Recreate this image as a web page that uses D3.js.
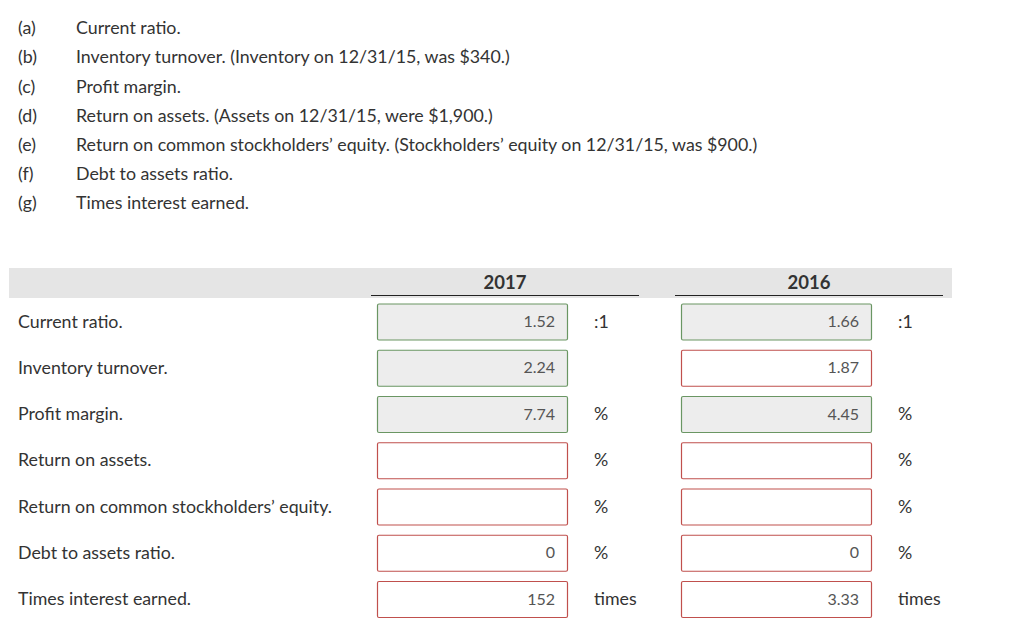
<!DOCTYPE html>
<html>
<head>
<meta charset="utf-8">
<script src="https://cdn.jsdelivr.net/npm/d3@7"></script>
<style>
  body { margin: 0; background: #fff; }
  svg text { font-family: Lato, "Open Sans", sans-serif; }
</style>
</head>
<body>
<div id="chart"></div>
<script>
// question list
var letters = ['(a)', '(b)', '(c)', '(d)', '(e)', '(f)', '(g)'];
var questions = [
  'Current ratio.',
  'Inventory turnover. (Inventory on 12/31/15, was $340.)',
  'Profit margin.',
  'Return on assets. (Assets on 12/31/15, were $1,900.)',
  'Return on common stockholders\u2019 equity. (Stockholders\u2019 equity on 12/31/15, was $900.)',
  'Debt to assets ratio.',
  'Times interest earned.'
];

// answer table
var years = ['2017', '2016'];
var metrics = [
  'Current ratio.',
  'Inventory turnover.',
  'Profit margin.',
  'Return on assets.',
  'Return on common stockholders\u2019 equity.',
  'Debt to assets ratio.',
  'Times interest earned.'
];
var values2017 = ['1.52', '2.24', '7.74', '', '', '0', '152'];
var values2016 = ['1.66', '1.87', '4.45', '', '', '0', '3.33'];
var correct2017 = [true, true, true, false, false, false, false];
var correct2016 = [true, false, true, false, false, false, false];
var units = [':1', '', '%', '%', '%', '%', 'times'];

var width = 1024, height = 644;
var textColor = '#333';
var fs = '17.8px';

var svg = d3.select('#chart').append('svg')
  .attr('width', width)
  .attr('height', height);

// top list
var qy = d3.scalePoint().domain(d3.range(letters.length)).range([28, 203]);
var q = svg.selectAll('.q')
  .data(questions)
  .enter().append('g')
  .attr('class', 'q')
  .attr('transform', function(d, i) { return 'translate(0,' + qy(i) + ')'; });
q.append('text')
  .attr('x', 18).attr('dy', '0.35em')
  .style('font-size', fs).style('fill', textColor)
  .text(function(d, i) { return letters[i]; });
q.append('text')
  .attr('x', 76).attr('dy', '0.35em')
  .style('font-size', fs).style('fill', textColor)
  .text(function(d) { return d; });

// header band
svg.append('rect')
  .attr('x', 9).attr('y', 268)
  .attr('width', 943).attr('height', 30)
  .attr('fill', '#e5e5e5');

var colX = d3.scalePoint().domain(years).range([377, 681]);
var boxW = 190, boxH = 36;

var head = svg.selectAll('.yr')
  .data(years)
  .enter().append('g')
  .attr('class', 'yr');
head.append('text')
  .attr('x', function(d) { return colX(d) + 128; })
  .attr('y', 283).attr('dy', '0.35em')
  .attr('text-anchor', 'middle')
  .style('font-size', '18.5px').style('font-weight', 'bold').style('fill', textColor)
  .text(function(d) { return d; });
head.append('line')
  .attr('x1', function(d) { return colX(d) - 6; })
  .attr('x2', function(d) { return colX(d) + 262; })
  .attr('y1', 295.5).attr('y2', 295.5)
  .attr('stroke', '#222').attr('stroke-width', 1);

// rows
var ry = d3.scalePoint().domain(metrics).range([321.5, 599]);

svg.selectAll('.lbl')
  .data(metrics)
  .enter().append('text')
  .attr('class', 'lbl')
  .attr('x', 18).attr('y', function(d) { return ry(d); }).attr('dy', '0.35em')
  .style('font-size', fs).style('fill', textColor)
  .text(function(d) { return d; });

var cells = [];
years.forEach(function(yr) {
  var vals = yr === '2017' ? values2017 : values2016;
  var ok = yr === '2017' ? correct2017 : correct2016;
  metrics.forEach(function(m, i) {
    cells.push({ year: yr, metric: m, value: vals[i], ok: ok[i], unit: units[i] });
  });
});

var cell = svg.selectAll('.cell')
  .data(cells)
  .enter().append('g')
  .attr('class', 'cell')
  .attr('transform', function(d) {
    return 'translate(' + colX(d.year) + ',' + ry(d.metric) + ')';
  });
cell.append('rect')
  .attr('x', 0.5).attr('y', -boxH / 2 + 0.5)
  .attr('width', boxW).attr('height', boxH)
  .attr('rx', 1.5)
  .attr('fill', function(d) { return d.ok ? '#ededed' : '#fff'; })
  .attr('stroke', function(d) { return d.ok ? '#6a9663' : '#c0504d'; })
  .attr('stroke-width', 1.2);
cell.append('text')
  .attr('x', 178).attr('dy', '0.35em')
  .attr('text-anchor', 'end')
  .style('font-size', '16px').style('fill', '#555')
  .text(function(d) { return d.value; });
cell.append('text')
  .attr('x', 217).attr('dy', '0.35em')
  .style('font-size', fs).style('fill', textColor)
  .text(function(d) { return d.unit; });
</script>
</body>
</html>
